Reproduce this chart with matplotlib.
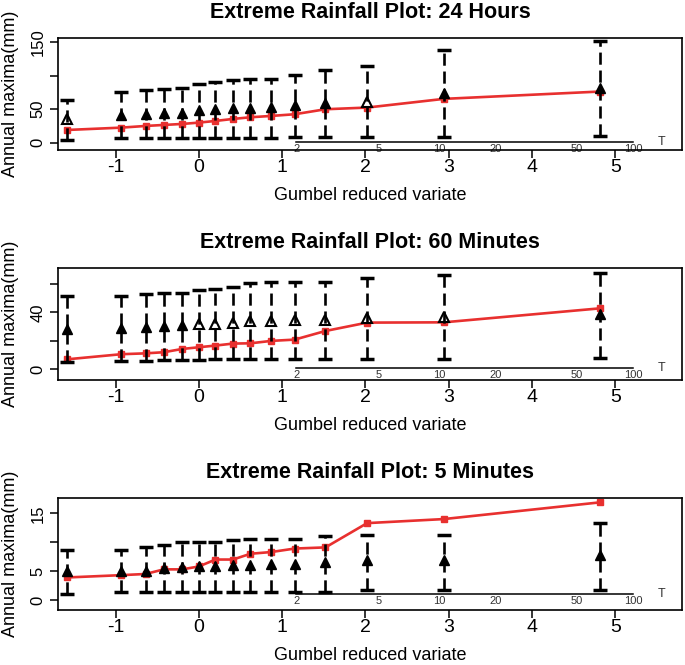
import numpy as np
import matplotlib
matplotlib.use('Agg')
import matplotlib.pyplot as plt

plt.rcParams['font.family'] = ['Liberation Sans', 'DejaVu Sans']
plt.rcParams['axes.unicode_minus'] = False

# Gumbel reduced variate of each ranked annual maximum (same for all panels)
x = [-1.58, -0.93, -0.64, -0.42, -0.20, 0.00, 0.20, 0.41, 0.62, 0.87, 1.15, 1.52, 2.02, 2.94, 4.82]

# return period scale drawn inside each panel
t_labels = ['2', '5', '10', '20', '50', '100']
t_pos = [1.17, 2.16, 2.89, 3.56, 4.53, 5.21]

titles = ['Extreme Rainfall Plot: 24 Hours',
          'Extreme Rainfall Plot: 60 Minutes',
          'Extreme Rainfall Plot: 5 Minutes']

# 24 hours
red_24h = [19, 22.5, 25, 26.5, 28, 30, 32.5, 35.5, 38, 40, 42.5, 50, 52.5, 65.5, 76.5]
tri_24h = [35, 41.5, 42.5, 44, 45, 49, 50, 51.5, 52.5, 54, 56.5, 60, 61.5, 75, 82.5]
hi_24h = [64, 76.5, 79, 80.5, 81.5, 87.5, 90, 93, 95, 95.5, 101.5, 108, 114, 139, 151.5]
lo_24h = [4, 6.5, 6.5, 6.5, 6.5, 6.5, 6.5, 6.5, 7.5, 7.5, 9, 9, 9, 9, 10]
open_24h = [1, 0, 0, 0, 0, 0, 0, 0, 0, 0, 0, 0, 1, 0, 0]

# 60 minutes
red_60m = [6.8, 10.4, 11.0, 11.8, 14.1, 15.3, 16.5, 17.9, 18.1, 19.8, 20.7, 26.8, 32.7, 32.9, 42.8]
tri_60m = [28.2, 28.7, 29.9, 30.6, 31.1, 31.5, 31.8, 32.2, 33.9, 34.1, 34.4, 34.6, 36.2, 36.9, 38.6]
hi_60m = [51.8, 51.8, 52.7, 53.4, 53.9, 55.8, 56.5, 58.1, 60.5, 61.2, 61.6, 61.6, 64.5, 66.4, 68.0]
lo_60m = [5.2, 5.6, 5.6, 6.4, 6.4, 6.4, 6.8, 6.8, 7.1, 7.1, 7.1, 7.1, 7.1, 7.1, 7.5]
open_60m = [0, 0, 0, 0, 0, 1, 1, 1, 1, 1, 1, 1, 1, 1, 0]

# 5 minutes
red_5m = [3.9, 4.3, 4.5, 5.3, 5.3, 5.8, 7.0, 7.0, 8.0, 8.3, 8.9, 9.1, 13.3, 14.0, 16.9]
tri_5m = [5.1, 5.1, 5.1, 5.5, 5.7, 5.8, 5.8, 6.1, 6.1, 6.2, 6.2, 6.5, 6.9, 6.9, 7.7]
hi_5m = [8.7, 8.7, 9.1, 9.6, 10.0, 10.0, 10.1, 10.3, 10.5, 10.6, 10.6, 11.0, 11.3, 11.3, 13.4]
lo_5m = [1.1, 1.4, 1.4, 1.4, 1.4, 1.4, 1.4, 1.4, 1.4, 1.4, 1.4, 1.4, 1.7, 1.7, 1.8]
open_5m = [0] * 15

y_ticks = [[0, 50, 100, 150], [0, 20, 40, 60], [0, 5, 10, 15]]
y_ticklabels = [['0', '50', '', '150'], ['0', '', '40', ''], ['0', '5', '', '15']]
y_limits = [(-11, 157), (-7.8, 71.5), (-1.73, 17.7)]
x_ticks = [-1, 0, 1, 2, 3, 4, 5]

panels = [(red_24h, tri_24h, hi_24h, lo_24h, open_24h),
          (red_60m, tri_60m, hi_60m, lo_60m, open_60m),
          (red_5m, tri_5m, hi_5m, lo_5m, open_5m)]

T_AXIS_Y = 1.0
RED = '#e8302f'

fig = plt.figure(figsize=(6.85, 6.65), dpi=100)
bottoms = [0.7744, 0.4286, 0.0827]

xs = np.array(x)
for i, (red, tri, hi, lo, hollow) in enumerate(panels):
    ax = fig.add_axes([0.0847, bottoms[i], 0.911, 0.1689])
    tri = np.array(tri)
    hollow = np.array(hollow, dtype=bool)

    # fitted line
    ax.plot(xs, red, '-s', color=RED, lw=1.9, ms=3.8, zorder=2)

    # observed maxima
    ax.plot(xs[~hollow], tri[~hollow], '^', color='black', ms=7.5, ls='none', zorder=3)
    ax.plot(xs[hollow], tri[hollow], '^', mfc='white', mec='black', mew=1.5, ms=7.5, ls='none', zorder=3)

    # confidence intervals
    eb = ax.errorbar(xs, tri, yerr=[tri - np.array(lo), np.array(hi) - tri], fmt='none',
                     ecolor='black', elinewidth=1.9, capsize=5.0, capthick=2.5, zorder=4)
    eb[2][0].set_linestyle((0, (4.6, 2.2)))

    ax.set_xlim(-1.69, 5.80)
    ax.set_ylim(y_limits[i])
    ax.set_xticks(x_ticks)
    ax.set_xticklabels([str(t) for t in x_ticks])
    ax.set_yticks(y_ticks[i])
    ax.set_yticklabels(y_ticklabels[i], rotation=90, va='center')
    ax.tick_params(axis='x', direction='out', length=5.8, width=1.1, labelsize=14, pad=1)
    ax.tick_params(axis='y', direction='out', length=5.8, width=1.1, labelsize=12, pad=3)
    for s in ax.spines.values():
        s.set_linewidth(1.2)

    ax.set_title(titles[i], fontsize=15.5, fontweight='bold', pad=14)
    ax.set_xlabel('Gumbel reduced variate', fontsize=13)
    ax.xaxis.set_label_coords(0.5, -0.33)
    ax.set_ylabel('Annual maxima(mm)', fontsize=13)
    ax.yaxis.set_label_coords(-0.062, 0.5)

    # return period axis inside the plot
    ylo, yhi = y_limits[i]
    sec = ax.secondary_xaxis((T_AXIS_Y - ylo) / (yhi - ylo))
    sec.set_alignment('bottom')
    sec.set_xticks(t_pos, labels=t_labels)
    sec.spines['bottom'].set_bounds(t_pos[0], t_pos[-1])
    sec.spines['bottom'].set_linewidth(1.1)
    sec.tick_params(length=0, pad=1.5, labelsize=8, labelcolor='#333333')
    ax.text(5.55, T_AXIS_Y, 'T', fontsize=9, color='#333333', ha='center', va='center')

fig.savefig('out.png', dpi=100)
